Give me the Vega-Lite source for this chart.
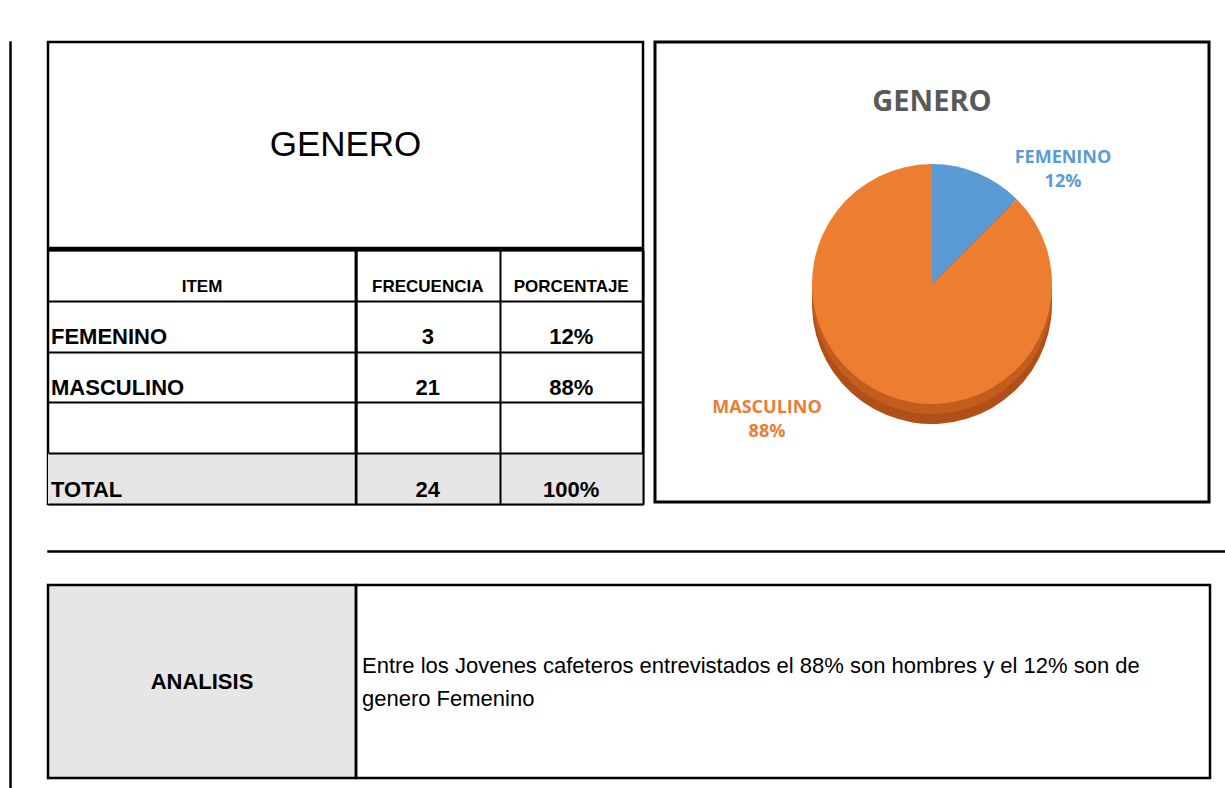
{
  "$schema": "https://vega.github.io/schema/vega-lite/v6.json",
  "background": "white",
  "padding": {"left": 9, "top": 40, "right": 0, "bottom": 0},
  "config": {
    "font": "Liberation Sans",
    "view": {"stroke": null},
    "text": {"font": "Liberation Sans", "color": "black"}
  },
  "datasets": {
    "genero": [
      {"item": "FEMENINO", "frecuencia": 3, "porcentaje": 0.12},
      {"item": "MASCULINO", "frecuencia": 21, "porcentaje": 0.88},
      {"item": "TOTAL", "frecuencia": 24, "porcentaje": 1.0}
    ],
    "columnas": [{"columna": "ITEM"}, {"columna": "FRECUENCIA"}, {"columna": "PORCENTAJE"}],
    "titulo": [{"texto": "GENERO"}],
    "analisis": [{"etiqueta": "ANALISIS", "texto": "Entre los Jovenes cafeteros entrevistados  el 88% son hombres y el 12% son de\ngenero Femenino"}]
  },
  "spacing": 34,
  "hconcat": [
    {
      "width": 1, "height": 748,
      "view": {"stroke": "black", "strokeWidth": 1.5},
      "data": {"name": "titulo"},
      "mark": {"type": "text", "text": ""},
      "encoding": {}
    },
    {
      "spacing": 38,
      "vconcat": [
        {
          "spacing": 8,
          "hconcat": [
            {
              "spacing": -2,
              "vconcat": [
                {
                  "width": 595, "height": 206,
                  "view": {"stroke": "black", "strokeWidth": 2.5},
                  "data": {"name": "titulo"},
                  "mark": {"type": "text", "fontSize": 35},
                  "encoding": {"text": {"field": "texto", "type": "nominal"}}
                },
                {
                  "bounds": "flush",
                  "spacing": 0,
                  "hconcat": [
                    {
                      "width": 308, "height": 254,
                      "view": {"stroke": "black", "strokeWidth": 2.5},
                      "layer": [
                        {
                          "data": {"name": "genero"},
                          "transform": [{"filter": "datum.item === 'TOTAL'"}],
                          "mark": {"type": "rect", "color": "#e7e6e6"},
                          "encoding": {
                            "x": {"value": 0}, "x2": {"value": "width"},
                            "y": {"field": "item", "type": "nominal",
                              "scale": {"type": "band", "domain": ["ENCABEZADO", "FEMENINO", "MASCULINO", "VACIO", "TOTAL"], "paddingInner": 0, "paddingOuter": 0},
                              "axis": {"grid": true, "tickBand": "extent", "gridColor": "black", "gridWidth": 2, "gridOpacity": 1, "labels": false, "ticks": false, "domain": false, "title": null, "zindex": 1}}
                          }
                        },
                        {
                          "data": {"name": "columnas"},
                          "transform": [{"filter": "datum.columna === 'ITEM'"}],
                          "mark": {"type": "text", "fontSize": 17, "fontWeight": "bold", "baseline": "middle"},
                          "encoding": {
                            "x": {"field": "columna", "type": "nominal", "scale": {"type": "band", "domain": ["ITEM"], "paddingInner": 0, "paddingOuter": 0}, "axis": null},
                            "y": {"datum": "ENCABEZADO", "type": "nominal", "bandPosition": 0.72,
                              "axis": {"grid": true, "tickBand": "extent", "gridColor": "black", "gridWidth": 2, "gridOpacity": 1, "labels": false, "ticks": false, "domain": false, "title": null, "zindex": 1}},
                            "text": {"field": "columna", "type": "nominal"}
                          }
                        },
                        {
                          "data": {"name": "genero"},
                          "mark": {"type": "text", "fontSize": 22, "fontWeight": "bold", "align": "left", "dx": 3, "baseline": "middle"},
                          "encoding": {
                            "x": {"datum": "ITEM", "type": "nominal", "bandPosition": 0, "axis": null},
                            "y": {"field": "item", "type": "nominal", "bandPosition": 0.72,
                              "axis": {"grid": true, "tickBand": "extent", "gridColor": "black", "gridWidth": 2, "gridOpacity": 1, "labels": false, "ticks": false, "domain": false, "title": null, "zindex": 1}},
                            "text": {"field": "item", "type": "nominal"}
                          }
                        }
                      ]
                    },
                    {
                      "width": 287, "height": 254,
                      "view": {"stroke": "black", "strokeWidth": 2.5},
                      "layer": [
                        {
                          "data": {"name": "genero"},
                          "transform": [{"filter": "datum.item === 'TOTAL'"}],
                          "mark": {"type": "rect", "color": "#e7e6e6"},
                          "encoding": {
                            "x": {"value": 0}, "x2": {"value": "width"},
                            "y": {"field": "item", "type": "nominal",
                              "scale": {"type": "band", "domain": ["ENCABEZADO", "FEMENINO", "MASCULINO", "VACIO", "TOTAL"], "paddingInner": 0, "paddingOuter": 0},
                              "axis": {"grid": true, "tickBand": "extent", "gridColor": "black", "gridWidth": 2, "gridOpacity": 1, "labels": false, "ticks": false, "domain": false, "title": null, "zindex": 1}}
                          }
                        },
                        {
                          "data": {"name": "columnas"},
                          "transform": [{"filter": "datum.columna !== 'ITEM'"}],
                          "mark": {"type": "text", "fontSize": 17, "fontWeight": "bold", "baseline": "middle"},
                          "encoding": {
                            "x": {"field": "columna", "type": "nominal",
                              "scale": {"type": "band", "domain": ["FRECUENCIA", "PORCENTAJE"], "paddingInner": 0, "paddingOuter": 0},
                              "axis": {"grid": true, "tickBand": "extent", "gridColor": "black", "gridWidth": 2, "gridOpacity": 1, "labels": false, "ticks": false, "domain": false, "title": null, "zindex": 1}},
                            "y": {"datum": "ENCABEZADO", "type": "nominal", "bandPosition": 0.72,
                              "axis": {"grid": true, "tickBand": "extent", "gridColor": "black", "gridWidth": 2, "gridOpacity": 1, "labels": false, "ticks": false, "domain": false, "title": null, "zindex": 1}},
                            "text": {"field": "columna", "type": "nominal"}
                          }
                        },
                        {
                          "data": {"name": "genero"},
                          "mark": {"type": "text", "fontSize": 22, "fontWeight": "bold", "baseline": "middle"},
                          "encoding": {
                            "x": {"datum": "FRECUENCIA", "type": "nominal",
                              "axis": {"grid": true, "tickBand": "extent", "gridColor": "black", "gridWidth": 2, "gridOpacity": 1, "labels": false, "ticks": false, "domain": false, "title": null, "zindex": 1}},
                            "y": {"field": "item", "type": "nominal", "bandPosition": 0.72,
                              "axis": {"grid": true, "tickBand": "extent", "gridColor": "black", "gridWidth": 2, "gridOpacity": 1, "labels": false, "ticks": false, "domain": false, "title": null, "zindex": 1}},
                            "text": {"field": "frecuencia", "type": "quantitative", "format": "d"}
                          }
                        },
                        {
                          "data": {"name": "genero"},
                          "mark": {"type": "text", "fontSize": 22, "fontWeight": "bold", "baseline": "middle"},
                          "encoding": {
                            "x": {"datum": "PORCENTAJE", "type": "nominal",
                              "axis": {"grid": true, "tickBand": "extent", "gridColor": "black", "gridWidth": 2, "gridOpacity": 1, "labels": false, "ticks": false, "domain": false, "title": null, "zindex": 1}},
                            "y": {"field": "item", "type": "nominal", "bandPosition": 0.72,
                              "axis": {"grid": true, "tickBand": "extent", "gridColor": "black", "gridWidth": 2, "gridOpacity": 1, "labels": false, "ticks": false, "domain": false, "title": null, "zindex": 1}},
                            "text": {"field": "porcentaje", "type": "quantitative", "format": ".0%"}
                          }
                        }
                      ]
                    }
                  ]
                }
              ]
            },
            {
              "width": 554, "height": 460,
              "view": {"stroke": "black", "strokeWidth": 3},
              "title": {"text": "GENERO", "frame": "group", "anchor": "middle", "offset": -89, "baseline": "middle", "font": "Open Sans", "fontSize": 29, "fontWeight": "bold", "color": "#595959"},
              "data": {"name": "genero"},
              "transform": [
                {"filter": "datum.item !== 'TOTAL'"},
                {"calculate": "datum.item + '\\n' + format(datum.porcentaje, '.0%')", "as": "etiqueta"}
              ],
              "encoding": {
                "theta": {"field": "frecuencia", "type": "quantitative", "stack": true},
                "order": {"field": "item", "sort": "ascending"},
                "detail": {"field": "item", "type": "nominal"}
              },
              "layer": [
                {
                  "mark": {"type": "arc", "outerRadius": 120, "yOffset": 32},
                  "encoding": {"color": {"condition": {"test": "datum.item === 'FEMENINO'", "value": "#3f72a6"}, "value": "#b04f17"}}
                },
                {
                  "mark": {"type": "arc", "outerRadius": 120, "yOffset": 22},
                  "encoding": {"color": {"condition": {"test": "datum.item === 'FEMENINO'", "value": "#3f72a6"}, "value": "#c25d1e"}}
                },
                {
                  "mark": {"type": "arc", "outerRadius": 120, "yOffset": 12},
                  "encoding": {"color": {"field": "item", "type": "nominal", "scale": {"domain": ["FEMENINO", "MASCULINO"], "range": ["#5b9bd5", "#ed7d31"]}, "legend": null}}
                },
                {
                  "mark": {"type": "text", "radius": 194, "thetaOffset": 0.475, "dx": -17, "dy": 11, "font": "Open Sans", "fontSize": 18, "fontWeight": "bold", "lineBreak": "\n", "lineHeight": 24, "baseline": "middle"},
                  "encoding": {
                    "text": {"field": "etiqueta", "type": "nominal"},
                    "color": {"field": "item", "type": "nominal", "scale": {"domain": ["FEMENINO", "MASCULINO"], "range": ["#5b9bd5", "#ed7d31"]}, "legend": null}
                  }
                }
              ]
            }
          ]
        },
        {
          "spacing": 25,
          "vconcat": [
            {
              "width": 1177, "height": 1,
              "view": {"stroke": "black", "strokeWidth": 1.5},
              "data": {"name": "titulo"},
              "mark": {"type": "text", "text": ""},
              "encoding": {}
            },
            {
              "bounds": "flush",
              "spacing": 0,
              "hconcat": [
                {
                  "width": 308, "height": 193,
                  "view": {"stroke": "black", "strokeWidth": 2.5, "fill": "#e7e6e6"},
                  "data": {"name": "analisis"},
                  "mark": {"type": "text", "fontSize": 22, "fontWeight": "bold"},
                  "encoding": {"text": {"field": "etiqueta", "type": "nominal"}}
                },
                {
                  "width": 854, "height": 193,
                  "view": {"stroke": "black", "strokeWidth": 2.5},
                  "data": {"name": "analisis"},
                  "mark": {"type": "text", "fontSize": 22, "align": "left", "dx": 6, "dy": -16, "lineBreak": "\n", "lineHeight": 33, "baseline": "middle"},
                  "encoding": {
                    "x": {"field": "etiqueta", "type": "nominal", "bandPosition": 0, "scale": {"type": "band", "paddingInner": 0, "paddingOuter": 0}, "axis": null},
                    "text": {"field": "texto", "type": "nominal"}
                  }
                }
              ]
            }
          ]
        }
      ]
    }
  ]
}
